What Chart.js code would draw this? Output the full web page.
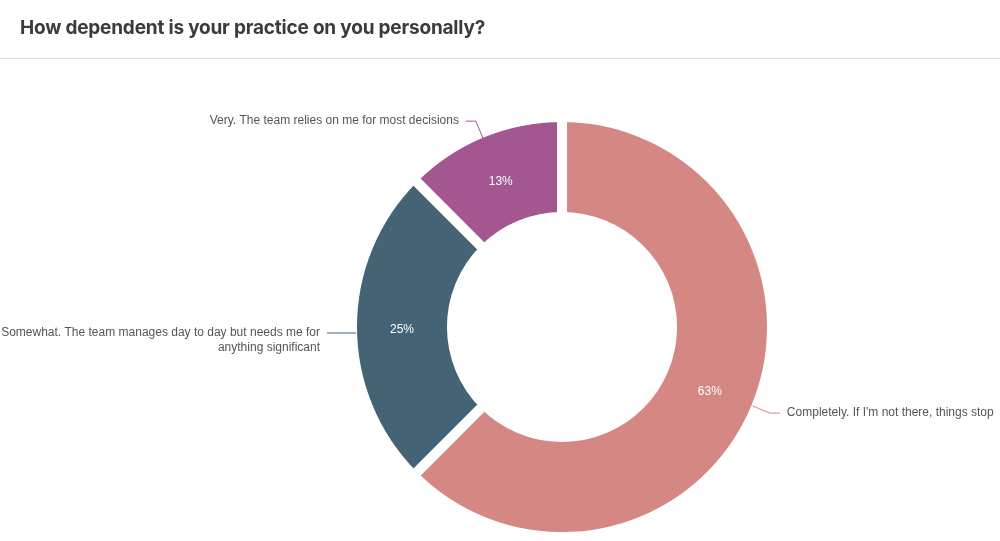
<!DOCTYPE html>
<html>
<head>
<meta charset="utf-8">
<script src="https://cdn.jsdelivr.net/npm/chart.js@4"></script>
<style>
  html, body { margin: 0; padding: 0; background: #fff; }
  #wrap { position: relative; width: 1000px; height: 541px; }
  #head {
    position: absolute; left: 0; top: 0; width: 1000px; height: 58px;
    border-bottom: 1px solid #dedede; box-sizing: content-box;
  }
  #head h1 {
    margin: 0; position: absolute; left: 20px; top: 16px;
    font: 700 19px Inter, "Noto Sans", sans-serif; color: #3b3b3d;
    letter-spacing: -0.2px;
  }
  #box { position: absolute; left: 0; top: 0; width: 1000px; height: 541px; }
</style>
</head>
<body>
<div id="wrap">
  <div id="box"><canvas id="donut"></canvas></div>
  <div id="head"><h1>How dependent is your practice on you personally?</h1></div>
</div>
<script>
const categories = [
  "Completely. If I'm not there, things stop",
  "Somewhat. The team manages day to day but needs me for anything significant",
  "Very. The team relies on me for most decisions"
];
const shares = [62.5, 25, 12.5];
const colors = ["#d48783", "#446475", "#a35690"];

const BORDER = 10;
// small vertical nudges for the outside labels (px)
const labelShiftY = [0, 6, 2];

const wrapText = (ctx, text, maxWidth) => {
  const words = text.split(" ");
  const lines = [];
  let line = "";
  words.forEach(w => {
    const test = line ? line + " " + w : w;
    if (line && ctx.measureText(test).width > maxWidth) {
      lines.push(line);
      line = w;
    } else {
      line = test;
    }
  });
  if (line) lines.push(line);
  return lines;
};

// labels outside with elbow connectors + percentages inside
const sliceLabels = {
  id: "sliceLabels",
  afterDatasetsDraw(chart) {
    const ctx = chart.ctx;
    const meta = chart.getDatasetMeta(0);
    const W = chart.width;
    ctx.save();
    meta.data.forEach((arc, i) => {
      const p = arc.getProps(["x", "y", "startAngle", "endAngle", "outerRadius", "innerRadius"], true);
      const mid = (p.startAngle + p.endAngle) / 2;
      const c = Math.cos(mid), s = Math.sin(mid);
      const rOut = p.outerRadius - BORDER / 2;

      // inner percent
      const rm = (p.outerRadius + p.innerRadius) / 2;
      ctx.fillStyle = "#ffffff";
      ctx.font = "12px 'Liberation Sans', Arial, sans-serif";
      ctx.textAlign = "center";
      ctx.textBaseline = "middle";
      ctx.fillText(Math.round(shares[i]) + "%", p.x + rm * c, p.y + rm * s + 3);

      // connector
      const ax = p.x + (rOut + 1) * c, ay = p.y + (rOut + 1) * s;
      const ex = p.x + (rOut + 20) * c, ey = p.y + (rOut + 20) * s + labelShiftY[i];
      const dir = c >= 0 ? 1 : -1;
      const hx = ex + dir * 10;
      ctx.strokeStyle = colors[i];
      ctx.lineWidth = 1;
      ctx.beginPath();
      ctx.moveTo(ax, ay + labelShiftY[i]);
      ctx.lineTo(ex, ey);
      ctx.lineTo(hx, ey);
      ctx.stroke();

      // category text
      const tx = hx + dir * 7;
      const room = dir > 0 ? W - tx + 6 : tx;
      ctx.fillStyle = "#555555";
      ctx.textAlign = dir > 0 ? "left" : "right";
      const lines = wrapText(ctx, categories[i], room);
      lines.forEach((ln, k) => ctx.fillText(ln, tx, ey + k * 15));
    });
    ctx.restore();
  }
};

new Chart(document.getElementById("donut"), {
  type: "doughnut",
  data: {
    labels: categories,
    datasets: [{
      data: shares,
      backgroundColor: colors,
      borderColor: "#ffffff",
      borderWidth: BORDER,
      hoverOffset: 0
    }]
  },
  options: {
    responsive: true,
    maintainAspectRatio: false,
    animation: false,
    radius: 210,
    cutout: "52.4%",
    layout: { padding: { left: 362, right: 238, top: 127, bottom: 14 } },
    plugins: { legend: { display: false }, tooltip: { enabled: false } }
  },
  plugins: [sliceLabels]
});
</script>
</body>
</html>
